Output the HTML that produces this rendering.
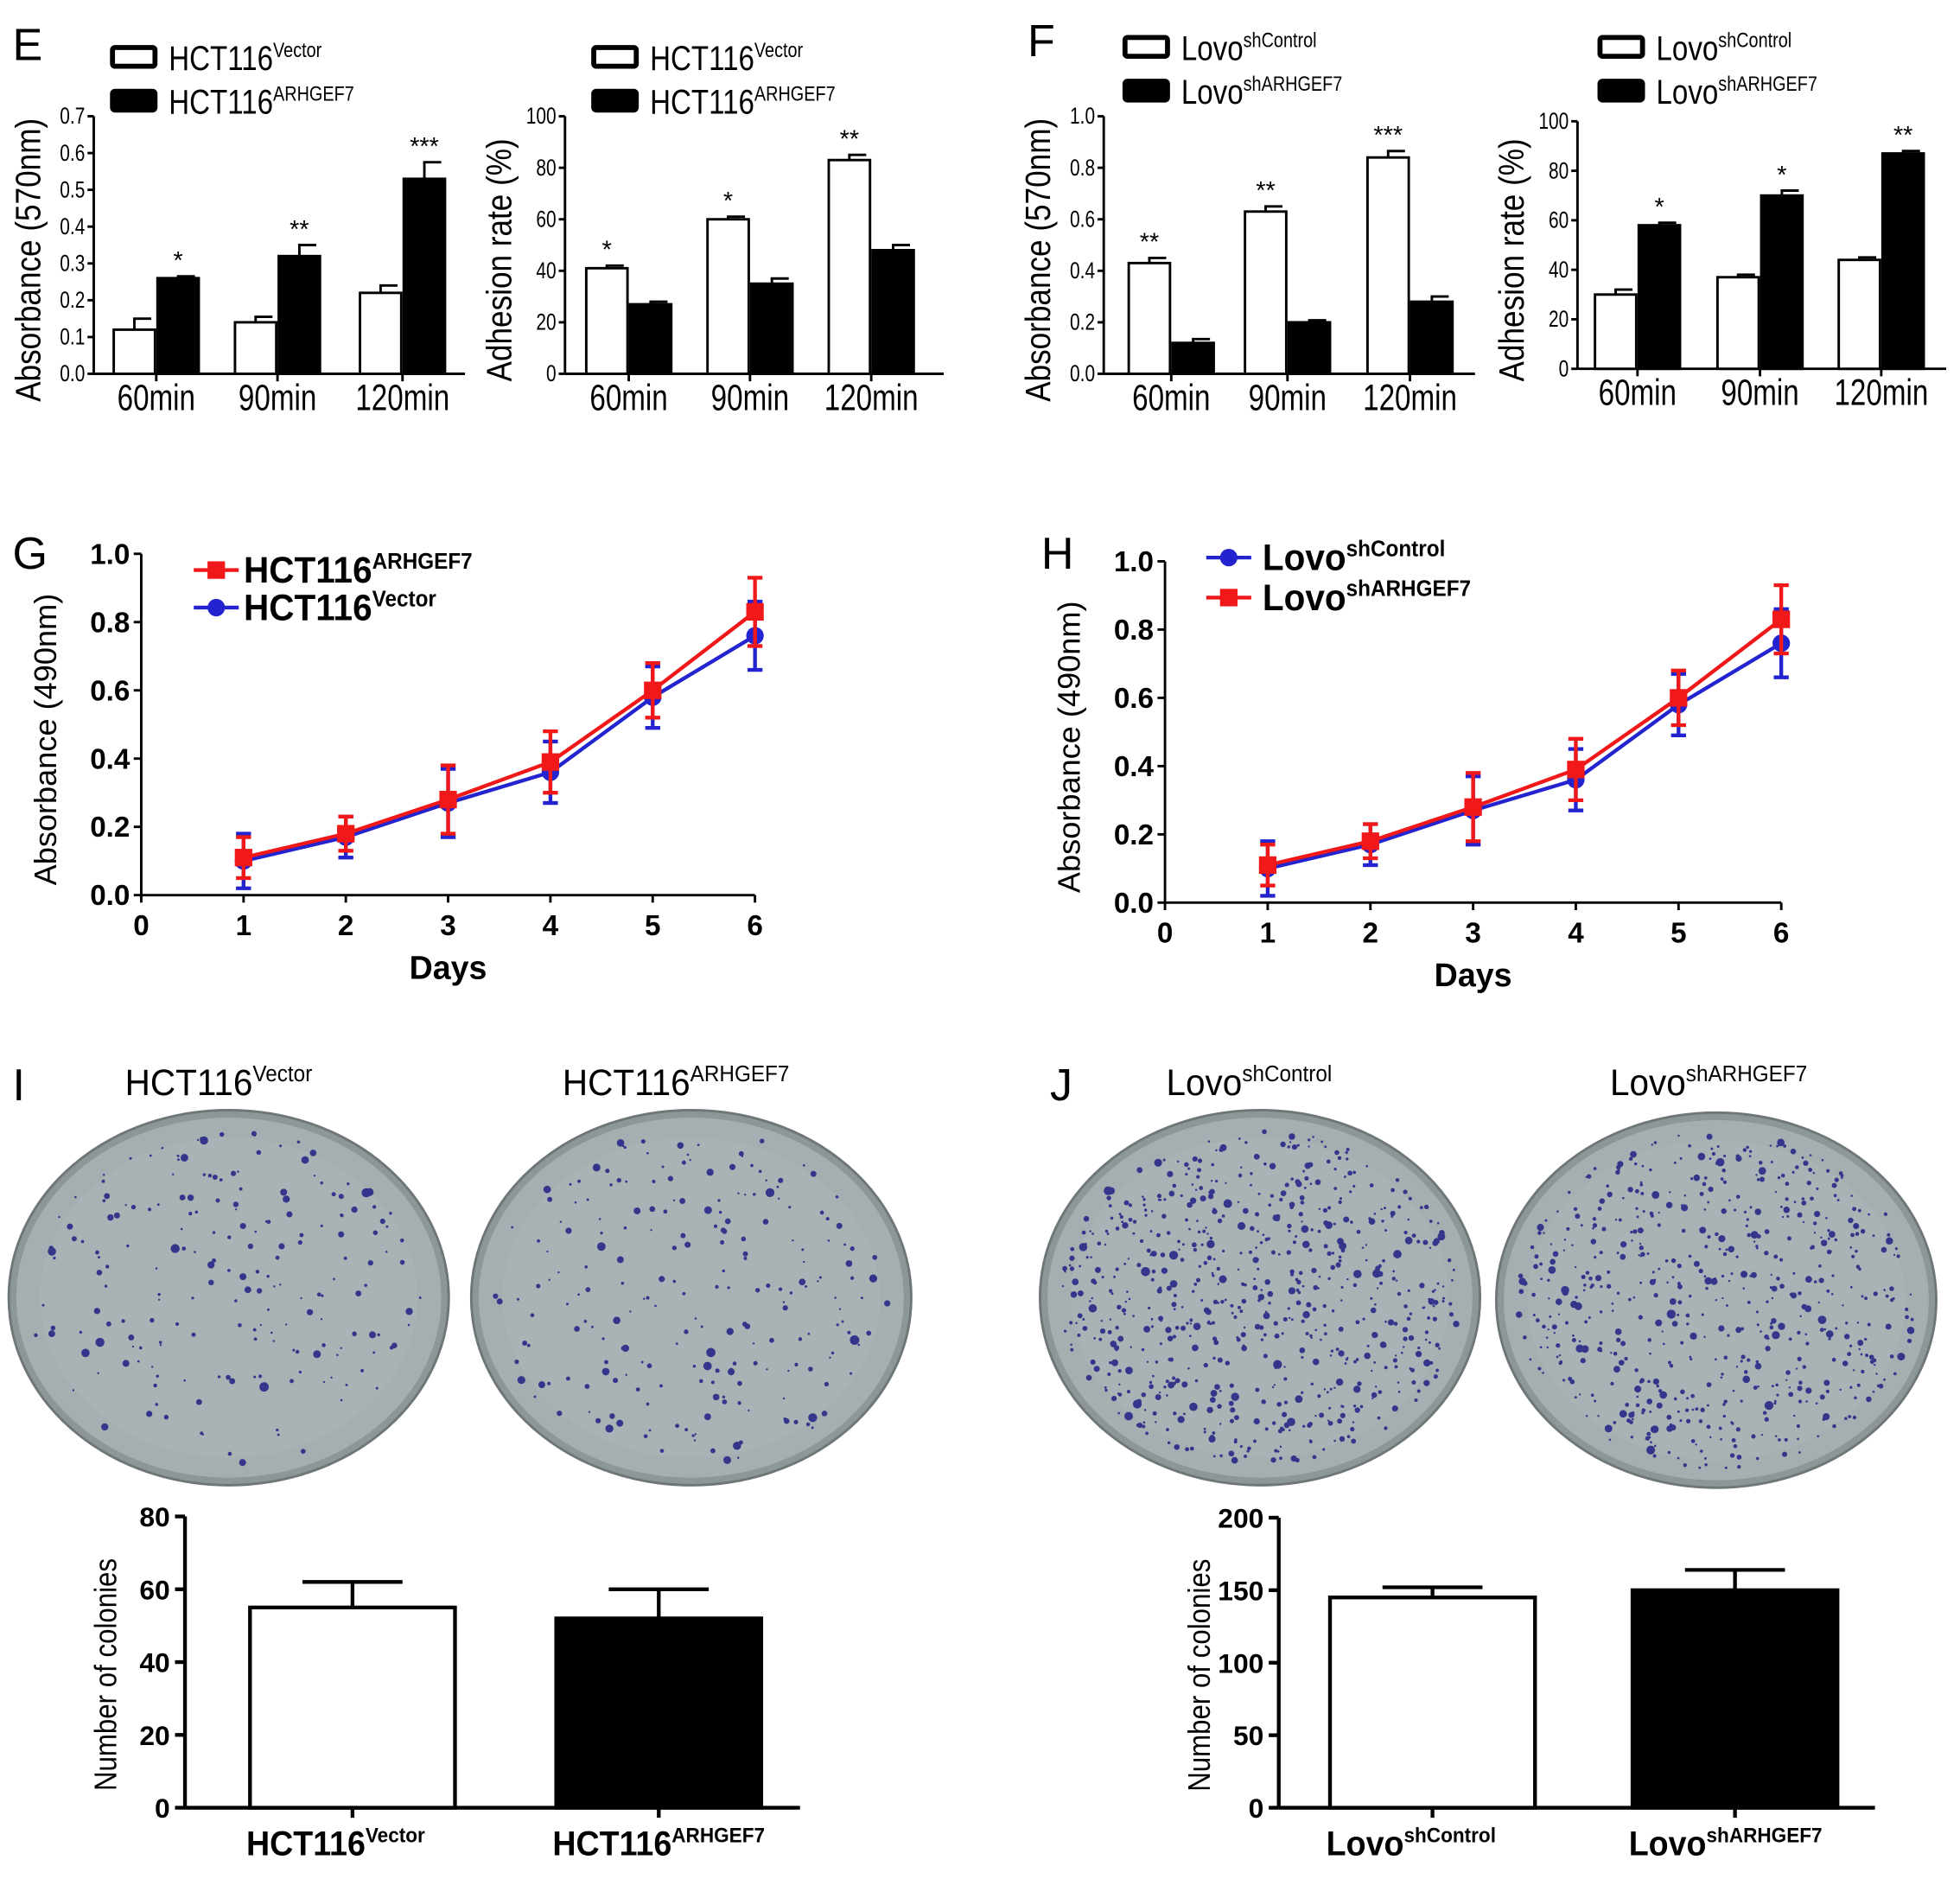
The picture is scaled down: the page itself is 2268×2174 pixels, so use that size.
<!DOCTYPE html>
<html><head><meta charset="utf-8">
<style>
html,body{margin:0;padding:0;background:#fff;}
svg{display:block;}
text{font-family:"Liberation Sans",sans-serif;fill:#000;}
</style></head>
<body>
<svg id="fig" width="2268" height="2174" viewBox="0 0 1568 1503" xmlns="http://www.w3.org/2000/svg">
<g id="root"></g>
</svg>
<script>
// ---- data ----
const groupsE = ["60min","90min","120min"];
const e1White = [0.12,0.14,0.22]; const e1WhiteErr=[0.03,0.015,0.02];
const e1Black = [0.26,0.32,0.53]; const e1BlackErr=[0.005,0.03,0.045];
const e1Stars = ["*","**","***"];
const e1Ticks = [0,0.1,0.2,0.3,0.4,0.5,0.6,0.7];
const e2White = [41,60,83]; const e2WhiteErr=[1,1,2];
const e2Black = [27,35,48]; const e2BlackErr=[1,2,2];
const e2Stars = ["*","*","**"];
const pctTicks = [0,20,40,60,80,100];
const f1White = [0.43,0.63,0.84]; const f1WhiteErr=[0.02,0.02,0.025];
const f1Black = [0.12,0.20,0.28]; const f1BlackErr=[0.015,0.008,0.02];
const f1Stars = ["**","**","***"];
const f1Ticks = [0,0.2,0.4,0.6,0.8,1.0];
const f2White = [30,37,44]; const f2WhiteErr=[2,1,1];
const f2Black = [58,70,87]; const f2BlackErr=[1,2,1];
const f2Stars = ["*","*","**"];
const days = [1,2,3,4,5,6];
const redVals = [0.11,0.18,0.28,0.39,0.60,0.83];
const redErr  = [0.06,0.05,0.10,0.09,0.08,0.10];
const blueVals= [0.10,0.17,0.27,0.36,0.58,0.76];
const blueErr = [0.08,0.06,0.10,0.09,0.09,0.10];
const gyTicks = [0,0.2,0.4,0.6,0.8,1.0];
const gxTicks = [0,1,2,3,4,5,6];
const iVals = [55,52]; const iErr=[7,8]; const iTicks=[0,20,40,60,80];
const jVals = [145,150]; const jErr=[7,14]; const jTicks=[0,50,100,150,200];

const NS="http://www.w3.org/2000/svg";
const root=document.getElementById('root');
function el(tag,attrs,parent,txt){const e=document.createElementNS(NS,tag);for(const k in attrs)e.setAttribute(k,attrs[k]);if(txt!==undefined)e.textContent=txt;(parent||root).appendChild(e);return e;}
function label(x,y,base,sup,size,opts,sx){
  const t=el('text',Object.assign({x:0,y:0,'font-size':size,transform:`translate(${x},${y}) scale(${sx||1},1.05)`},opts||{}));
  
  
  const a=document.createElementNS(NS,'tspan');a.textContent=base;t.appendChild(a);
  const b=document.createElementNS(NS,'tspan');b.setAttribute('font-size',size*0.6);b.setAttribute('dy',-size*0.38);b.textContent=sup;t.appendChild(b);
  return t;
}
function panelLetter(x,y,s){const t=el('text',{x:x,y:y,'font-size':36},root,s);

}

function barChart(name,ax,ay0,ay1,ax1,ymax,ticks,tickFmt,centers,white,wErr,black,bErr,stars,ylab,legX,legY,names){
  const g=el('g',{});
  
  
  const y=v=>ay0-(v/ymax)*(ay0-ay1);
  el('line',{x1:ax,y1:ay0,x2:ax,y2:ay1,stroke:'#000','stroke-width':2},g);
  el('line',{x1:ax,y1:ay0,x2:ax1,y2:ay0,stroke:'#000','stroke-width':2},g);
  ticks.forEach(t=>{el('line',{x1:ax-5,y1:y(t),x2:ax,y2:y(t),stroke:'#000','stroke-width':2},g);
    const tx=el('text',{x:0,y:0,'font-size':17,'text-anchor':'end',transform:`translate(${ax-7},${y(t)+6}) scale(0.85,1.1)`},g,tickFmt(t));
    });
  const bw=33;
  centers.forEach((c,i)=>{
    el('line',{x1:c,y1:ay0,x2:c,y2:ay0+6,stroke:'#000','stroke-width':2},g);
    const wx=c-bw-1, bx=c+1;
    el('line',{x1:wx+bw/2,y1:y(white[i]),x2:wx+bw/2,y2:y(white[i]+wErr[i]),stroke:'#000','stroke-width':2},g);
    el('line',{x1:wx+bw/2-1,y1:y(white[i]+wErr[i]),x2:wx+bw-3,y2:y(white[i]+wErr[i]),stroke:'#000','stroke-width':2},g);
    const r1=el('rect',{x:wx,y:y(white[i]),width:bw,height:ay0-y(white[i]),fill:'#fff',stroke:'#000','stroke-width':2},g);
    
    el('line',{x1:bx+bw/2,y1:y(black[i]),x2:bx+bw/2,y2:y(black[i]+bErr[i]),stroke:'#000','stroke-width':2},g);
    el('line',{x1:bx+bw/2-1,y1:y(black[i]+bErr[i]),x2:bx+bw-3,y2:y(black[i]+bErr[i]),stroke:'#000','stroke-width':2},g);
    const r2=el('rect',{x:bx,y:y(black[i]),width:bw,height:ay0-y(black[i]),fill:'#000',stroke:'#000','stroke-width':2},g);
    
    const top=Math.max(white[i]+wErr[i],black[i]+bErr[i]);
    const sx=(white[i]>black[i])?wx+bw/2:bx+bw/2;
    el('text',{x:sx,y:y(top)-6,'font-size':20,'text-anchor':'middle'},g,stars[i]);
    const gl=el('text',{x:0,y:0,'font-size':27,'text-anchor':'middle',transform:`translate(${c},${ay0+29}) scale(0.85,1.1)`},g,groupsE[i]);
    
  });
  const yl=el('text',{x:0,y:0,'font-size':27,'text-anchor':'middle',transform:`translate(${ax-43},${(ay0+ay1)/2+12}) rotate(-90) scale(0.9,1.05)`},g,ylab);
  
  el('rect',{x:legX,y:legY,width:34,height:15,fill:'#fff',stroke:'#000','stroke-width':4,rx:2},g);
  el('rect',{x:legX,y:legY+35,width:34,height:15,fill:'#000',stroke:'#000','stroke-width':4,rx:2},g);
  label(legX+45,legY+18,names[0],names[1],26,{},0.88);
  label(legX+45,legY+53,names[0],names[2],26,{},0.88);
}
const f1=t=>t.toFixed(1);
panelLetter(10,48,'E');
barChart('chart-e-absorbance',75,299,93,372,0.7,e1Ticks,f1,[125,222,322],e1White,e1WhiteErr,e1Black,e1BlackErr,e1Stars,'Absorbance (570nm)',90,38,['HCT116','Vector','ARHGEF7']);
barChart('chart-e-adhesion',452,299,93,755,100,pctTicks,t=>String(t),[503,600,697],e2White,e2WhiteErr,e2Black,e2BlackErr,e2Stars,'Adhesion rate (%)',475,38,['HCT116','Vector','ARHGEF7']);
panelLetter(822,45,'F');
barChart('chart-f-absorbance',883,299,93,1180,1.0,f1Ticks,f1,[937,1030,1128],f1White,f1WhiteErr,f1Black,f1BlackErr,f1Stars,'Absorbance (570nm)',900,30,['Lovo','shControl','shARHGEF7']);
barChart('chart-f-adhesion',1262,295,97,1557,100,pctTicks,t=>String(t),[1310,1408,1505],f2White,f2WhiteErr,f2Black,f2BlackErr,f2Stars,'Adhesion rate (%)',1280,30,['Lovo','shControl','shARHGEF7']);

function lineChart(name,ax,ay0,ay1,ax6){
  const g=el('g',{});
  
  
  const X=d=>ax+d*(ax6-ax)/6, Y=v=>ay0-v*(ay0-ay1);
  el('line',{x1:ax,y1:ay0,x2:ax,y2:ay1,stroke:'#000','stroke-width':2},g);
  el('line',{x1:ax,y1:ay0,x2:ax6,y2:ay0,stroke:'#000','stroke-width':2},g);
  gyTicks.forEach(t=>{el('line',{x1:ax-6,y1:Y(t),x2:ax,y2:Y(t),stroke:'#000','stroke-width':2},g);
    el('text',{x:ax-9,y:Y(t)+8,'font-size':23,'font-weight':'bold','text-anchor':'end'},g,t.toFixed(1));});
  gxTicks.forEach(t=>{el('line',{x1:X(t),y1:ay0,x2:X(t),y2:ay0+6,stroke:'#000','stroke-width':2},g);
    el('text',{x:X(t),y:ay0+32,'font-size':23,'font-weight':'bold','text-anchor':'middle'},g,String(t));});
  el('text',{x:(ax+ax6)/2,y:ay0+67,'font-size':26,'font-weight':'bold','text-anchor':'middle'},g,'Days');
  el('text',{x:0,y:0,'font-size':25,'text-anchor':'middle',transform:`translate(${ax-68},${(ay0+ay1)/2+12}) rotate(-90)`},g,'Absorbance (490nm)');
  function series(vals,err,col,sq,nm){
    const sg=el('g',{},g);
    
    
    el('polyline',{points:days.map((d,i)=>X(d)+','+Y(vals[i])).join(' '),fill:'none',stroke:col,'stroke-width':3},sg);
    days.forEach((d,i)=>{
      el('line',{x1:X(d),y1:Y(vals[i]-err[i]),x2:X(d),y2:Y(vals[i]+err[i]),stroke:col,'stroke-width':3},sg);
      [vals[i]-err[i],vals[i]+err[i]].forEach(v=>el('line',{x1:X(d)-6,y1:Y(v),x2:X(d)+6,y2:Y(v),stroke:col,'stroke-width':3},sg));
      if(sq) el('rect',{x:X(d)-7,y:Y(vals[i])-7,width:14,height:14,fill:col},sg);
      else el('circle',{cx:X(d),cy:Y(vals[i]),r:7,fill:col},sg);
    });
  }
  series(blueVals,blueErr,'#2323d0',false,'series-control');
  series(redVals,redErr,'#f01818',true,'series-arhgef7');
  return {g,X,Y};
}
panelLetter(10,455,'G');
const G=lineChart('chart-g',113,716,443,604);
function legLine(g,x,y,col,sq){el('line',{x1:x,y1:y,x2:x+36,y2:y,stroke:col,'stroke-width':3},g);
 if(sq)el('rect',{x:x+11,y:y-7,width:14,height:14,fill:col},g);else el('circle',{cx:x+18,cy:y,r:7,fill:col},g);}
legLine(G.g,155,456,'#f01818',true); label(195,466,'HCT116','ARHGEF7',28,{'font-weight':'bold'});
legLine(G.g,155,486,'#2323d0',false); label(195,496,'HCT116','Vector',28,{'font-weight':'bold'});
panelLetter(833,455,'H');
const H=lineChart('chart-h',932,722,449,1425);
legLine(H.g,965,446,'#2323d0',false); label(1010,456,'Lovo','shControl',28,{'font-weight':'bold'});
legLine(H.g,965,478,'#f01818',true); label(1010,488,'Lovo','shARHGEF7',28,{'font-weight':'bold'});

panelLetter(10,880,'I'); panelLetter(840,880,'J');
let seed=7; function rnd(){seed=(seed*16807)%2147483647;return seed/2147483647;}
function plate(cx,cy,rx,ry,n,nm){
  const g=el('g',{});
  
  
  el('ellipse',{cx:cx,cy:cy,rx:rx,ry:ry,fill:'#8d9698',stroke:'#6e7678','stroke-width':2},g);
  el('ellipse',{cx:cx,cy:cy,rx:rx-6,ry:ry-6,fill:'#a5aeb0'},g);
  el('ellipse',{cx:cx,cy:cy,rx:rx-25,ry:ry-22,fill:'#a9b3b5'},g);
  for(let i=0;i<n;i++){const a=rnd()*6.283,r=Math.sqrt(rnd())*0.95;
    el('circle',{cx:cx+Math.cos(a)*r*(rx-8),cy:cy+Math.sin(a)*r*(ry-8),r:0.8+rnd()*rnd()*3,fill:'#35358c'},g);}
}
plate(183,1038,176,150,200,'plate-hct116-vector');
plate(553,1038,176,150,220,'plate-hct116-arhgef7');
plate(1008,1038,176,150,700,'plate-lovo-shcontrol');
plate(1373,1040,176,150,600,'plate-lovo-sharhgef7');
label(100,876,'HCT116','Vector',28,{});
label(450,876,'HCT116','ARHGEF7',28,{});
label(933,876,'Lovo','shControl',28,{});
label(1288,876,'Lovo','shARHGEF7',28,{});

function colonyChart(name,ax,ay0,ay1,ax1,ymax,ticks,vals,err,lefts,names){
  const g=el('g',{});
  
  
  const Y=v=>ay0-v/ymax*(ay0-ay1);
  el('line',{x1:ax,y1:ay0,x2:ax,y2:ay1,stroke:'#000','stroke-width':3},g);
  el('line',{x1:ax,y1:ay0,x2:ax1,y2:ay0,stroke:'#000','stroke-width':3},g);
  ticks.forEach(t=>{el('line',{x1:ax-8,y1:Y(t),x2:ax,y2:Y(t),stroke:'#000','stroke-width':3},g);
    el('text',{x:ax-12,y:Y(t)+8,'font-size':22,'font-weight':'bold','text-anchor':'end'},g,String(t));});
  const bw=164;
  vals.forEach((v,i)=>{const x=lefts[i];const c=x+bw/2;
    el('line',{x1:c,y1:Y(v),x2:c,y2:Y(v+err[i]),stroke:'#000','stroke-width':3},g);
    el('line',{x1:c-40,y1:Y(v+err[i]),x2:c+40,y2:Y(v+err[i]),stroke:'#000','stroke-width':3},g);
    el('line',{x1:c,y1:ay0,x2:c,y2:ay0+8,stroke:'#000','stroke-width':3},g);
    const r=el('rect',{x:x,y:Y(v),width:bw,height:ay0-Y(v),fill:i?'#000':'#fff',stroke:'#000','stroke-width':3},g);
    
    label(c-85,ay0+38,names[0],names[i+1],26,{'font-weight':'bold'});
  });
  el('text',{x:0,y:0,'font-size':24,'text-anchor':'middle',transform:`translate(${ax-55},${(ay0+ay1)/2+10}) rotate(-90) scale(0.9,1.05)`},g,'Number of colonies');
}
colonyChart('chart-i-colonies',148,1446,1213,640,80,iTicks,iVals,iErr,[200,445],['HCT116','Vector','ARHGEF7']);
colonyChart('chart-j-colonies',1023,1446,1214,1500,200,jTicks,jVals,jErr,[1064,1306],['Lovo','shControl','shARHGEF7']);
</script>
</body></html>
